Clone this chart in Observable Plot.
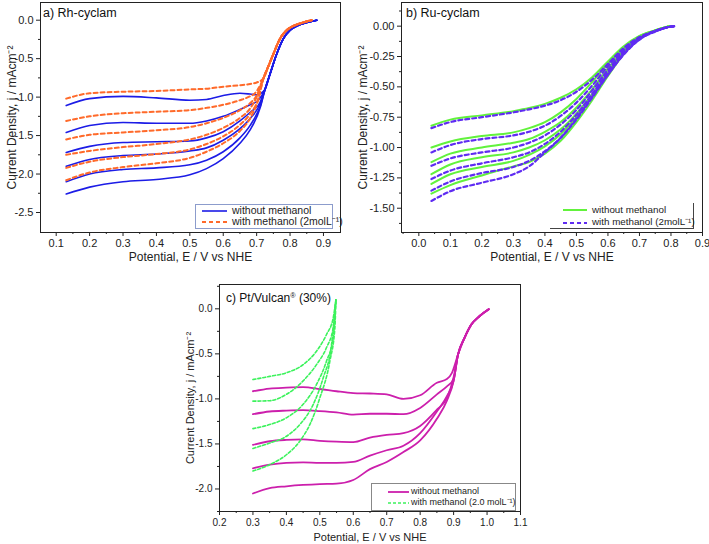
<!DOCTYPE html>
<html><head><meta charset="utf-8">
<script src="https://cdn.jsdelivr.net/npm/d3@7"></script>
<script src="https://cdn.jsdelivr.net/npm/@observablehq/plot@0.6"></script>
<style>
body{margin:0;background:#fff;}
#root{position:relative;width:709px;height:544px;overflow:hidden;font-family:"Liberation Sans",Arial,sans-serif;color:#222;background:#fff;}
.panel{position:absolute;}
.title{position:absolute;white-space:nowrap;line-height:1;color:#111;}
.title sup{font-size:0.6em;vertical-align:0.6em;line-height:0;}
.legend{position:absolute;box-sizing:border-box;}
.legend .row{position:absolute;white-space:nowrap;line-height:1;color:#222;}
.legend svg{position:absolute;overflow:visible;}
</style></head>
<body><div id="root"></div>
<script>
// ---------- Panel a) Rh-cyclam ----------
const rhX = [0.13, 0.2, 0.3, 0.4, 0.5, 0.55, 0.6, 0.65, 0.68];
const rhWithoutY = [
  [-1.11, -1.02, -0.99, -1.01, -1.04, -1.03, -0.98, -0.95, -0.96],
  [-1.46, -1.37, -1.33, -1.34, -1.34, -1.31, -1.25, -1.16, -1.10],
  [-1.72, -1.64, -1.59, -1.58, -1.57, -1.53, -1.45, -1.31, -1.20],
  [-1.90, -1.81, -1.76, -1.74, -1.70, -1.66, -1.56, -1.41, -1.28],
  [-2.10, -2.00, -1.94, -1.92, -1.88, -1.82, -1.71, -1.53, -1.37],
  [-2.26, -2.17, -2.10, -2.07, -2.01, -1.93, -1.80, -1.60, -1.43]
];
const rhWithoutEndX = [0.70, 0.705, 0.71, 0.71, 0.712, 0.712];
const rhWithoutEndY = [-0.97, -1.04, -1.07, -1.09, -1.10, -1.12];
const rhWithoutRiseX = [0.725, 0.74, 0.76, 0.78, 0.80, 0.82, 0.85, 0.88];
const rhWithoutRiseY = [-0.90, -0.70, -0.44, -0.24, -0.13, -0.075, -0.03, 0.0];
const rhWithY = [
  [-1.02, -0.95, -0.93, -0.92, -0.90, -0.89, -0.865, -0.845, -0.83],
  [-1.31, -1.25, -1.21, -1.19, -1.17, -1.14, -1.10, -1.04, -0.99],
  [-1.55, -1.49, -1.46, -1.43, -1.39, -1.34, -1.27, -1.17, -1.08],
  [-1.75, -1.70, -1.65, -1.61, -1.55, -1.49, -1.40, -1.27, -1.15],
  [-1.92, -1.84, -1.78, -1.74, -1.68, -1.61, -1.51, -1.36, -1.22],
  [-2.08, -1.98, -1.91, -1.86, -1.79, -1.71, -1.60, -1.44, -1.28]
];
const rhWithEndX = [0.70, 0.695, 0.70, 0.70, 0.705, 0.705];
const rhWithEndY = [-0.81, -0.95, -0.98, -1.00, -1.02, -1.03];
const rhWithRiseX = [0.72, 0.735, 0.75, 0.77, 0.79, 0.81, 0.835, 0.865];
const rhWithRiseY = [-0.76, -0.60, -0.44, -0.24, -0.13, -0.075, -0.035, 0.0];
const rhXTicks = [0.1, 0.2, 0.3, 0.4, 0.5, 0.6, 0.7, 0.8, 0.9];
const rhXMinor = [0.15, 0.25, 0.35, 0.45, 0.55, 0.65, 0.75, 0.85];
const rhYTicks = [0, -0.5, -1.0, -1.5, -2.0, -2.5];
const rhYMinor = [-0.25, -0.75, -1.25, -1.75, -2.25];

// ---------- Panel b) Ru-cyclam ----------
const ruX = [0.04, 0.1, 0.2, 0.3, 0.35, 0.4, 0.45, 0.5, 0.55, 0.6, 0.65, 0.7, 0.75];
const ruWithoutY = [
  [-0.82, -0.77, -0.735, -0.70, -0.675, -0.64, -0.59, -0.52, -0.42, -0.29, -0.165, -0.08, -0.035],
  [-1.00, -0.95, -0.905, -0.875, -0.84, -0.79, -0.71, -0.60, -0.46, -0.31, -0.18, -0.085, -0.035],
  [-1.12, -1.05, -1.00, -0.96, -0.93, -0.87, -0.79, -0.67, -0.52, -0.35, -0.20, -0.095, -0.035],
  [-1.22, -1.14, -1.08, -1.04, -1.00, -0.94, -0.85, -0.72, -0.56, -0.38, -0.21, -0.10, -0.035],
  [-1.30, -1.22, -1.16, -1.11, -1.06, -0.99, -0.89, -0.75, -0.58, -0.40, -0.22, -0.105, -0.035],
  [-1.38, -1.31, -1.23, -1.155, -1.12, -1.05, -0.945, -0.79, -0.61, -0.41, -0.23, -0.10, -0.035]
];
const ruWithoutEndX = [0.795];
const ruWithoutEndY = [0.0];
const ruWithY = [
  [-0.84, -0.79, -0.75, -0.71, -0.685, -0.655, -0.61, -0.54, -0.44, -0.31, -0.18, -0.09, -0.04],
  [-1.04, -0.98, -0.93, -0.90, -0.87, -0.82, -0.74, -0.63, -0.49, -0.33, -0.195, -0.095, -0.04],
  [-1.15, -1.09, -1.04, -1.00, -0.96, -0.90, -0.81, -0.69, -0.53, -0.36, -0.21, -0.10, -0.04],
  [-1.26, -1.19, -1.13, -1.08, -1.04, -0.97, -0.87, -0.73, -0.56, -0.38, -0.22, -0.105, -0.04],
  [-1.355, -1.28, -1.21, -1.16, -1.11, -1.03, -0.92, -0.77, -0.59, -0.40, -0.23, -0.11, -0.04],
  [-1.44, -1.36, -1.29, -1.22, -1.155, -1.04, -0.92, -0.76, -0.58, -0.40, -0.235, -0.11, -0.045]
];
const ruWithEndX = [0.78, 0.81];
const ruWithEndY = [-0.015, 0.0];
const ruXTicks = [0.0, 0.1, 0.2, 0.3, 0.4, 0.5, 0.6, 0.7, 0.8, 0.9];
const ruXMinor = [-0.05, 0.05, 0.15, 0.25, 0.35, 0.45, 0.55, 0.65, 0.75, 0.85];
const ruYTicks = [0, -0.25, -0.5, -0.75, -1.0, -1.25, -1.5];
const ruYMinor = [0.125, -0.125, -0.375, -0.625, -0.875, -1.125, -1.375, -1.625];

// ---------- Panel c) Pt/Vulcan ----------
const ptX = [0.30, 0.35, 0.40, 0.45, 0.50, 0.55, 0.60, 0.65, 0.70, 0.75, 0.80, 0.85, 0.88];
const ptWithoutY = [
  [-0.915, -0.885, -0.875, -0.87, -0.89, -0.915, -0.935, -0.94, -0.95, -1.0, -0.96, -0.82, -0.78],
  [-1.17, -1.14, -1.13, -1.125, -1.135, -1.15, -1.175, -1.165, -1.165, -1.17, -1.10, -0.95, -0.86],
  [-1.51, -1.47, -1.455, -1.45, -1.465, -1.475, -1.48, -1.43, -1.40, -1.38, -1.30, -1.12, -0.99],
  [-1.77, -1.73, -1.71, -1.705, -1.71, -1.71, -1.70, -1.63, -1.57, -1.52, -1.38, -1.14, -0.97],
  [-2.05, -1.99, -1.97, -1.955, -1.945, -1.94, -1.90, -1.78, -1.70, -1.59, -1.46, -1.22, -1.02]
];
const ptWithoutEndX = [0.895, 0.90, 0.90, 0.90, 0.90];
const ptWithoutEndY = [-0.71, -0.78, -0.76, -0.80, -0.80];
const ptWithoutRiseX = [0.913, 0.933, 0.953, 0.978, 1.005];
const ptWithoutRiseY = [-0.51, -0.32, -0.175, -0.08, -0.005];
const ptWithX = [
  [0.30, 0.35, 0.40, 0.45, 0.49, 0.52, 0.54, 0.548],
  [0.30, 0.35, 0.40, 0.45, 0.49, 0.52, 0.54, 0.548],
  [0.30, 0.35, 0.40, 0.45, 0.49, 0.52, 0.54, 0.548],
  [0.30, 0.35, 0.40, 0.44, 0.48, 0.51, 0.535, 0.548],
  [0.30, 0.35, 0.40, 0.44, 0.47, 0.50, 0.53, 0.545, 0.548]
];
const ptWithY = [
  [-0.785, -0.75, -0.71, -0.62, -0.47, -0.285, -0.10, 0.10],
  [-1.025, -1.02, -0.95, -0.80, -0.62, -0.43, -0.21, 0.10],
  [-1.33, -1.285, -1.21, -1.06, -0.84, -0.58, -0.32, 0.10],
  [-1.55, -1.49, -1.415, -1.285, -1.063, -0.767, -0.396, 0.10],
  [-1.80, -1.73, -1.62, -1.47, -1.285, -0.99, -0.58, -0.21, 0.10]
];
const ptXTicks = [0.2, 0.3, 0.4, 0.5, 0.6, 0.7, 0.8, 0.9, 1.0, 1.1];
const ptXMinor = [0.25, 0.35, 0.45, 0.55, 0.65, 0.75, 0.85, 0.95, 1.05];
const ptYTicks = [0, -0.5, -1.0, -1.5, -2.0];
const ptYMinor = [-0.25, -0.75, -1.25, -1.75, -2.25, 0.25];

const xLabel = "Potential, E / V vs NHE";
const yLabel = "Current Density, j / mAcm\u207B\u00B2";

// ---------- helpers ----------
function rows(xs, ys, id) { return xs.map((x, i) => ({x, y: ys[i], id})); }
function curveSet(plateauX, plateauYs, endXs, endYs, riseX, riseY, prefix) {
  const out = [];
  plateauYs.forEach((ys, k) => {
    const xs = plateauX.concat(endXs.length === plateauYs.length ? [endXs[k]] : endXs, riseX || []);
    const yy = ys.concat(endYs.length === plateauYs.length ? [endYs[k]] : endYs, riseY || []);
    out.push(...rows(xs, yy, prefix + k));
  });
  return out;
}
const fmt = n => d => d.toFixed(n);
const FONT = "Liberation Sans, Arial, sans-serif";

function makePanel(o) {
  return Plot.plot({
    width: o.width, height: o.height,
    marginLeft: o.ml, marginRight: o.mr, marginTop: o.mt, marginBottom: o.mb,
    style: {fontFamily: FONT, fontSize: o.tickFont + "px", color: "#222", background: "transparent", overflow: "visible"},
    x: {domain: o.xDomain},
    y: {domain: o.yDomain},
    marks: [
      ...o.lines.map(l => Plot.line(l.data, {x: "x", y: "y", z: "id", stroke: l.stroke, strokeWidth: l.sw, strokeDasharray: l.dash, curve: "monotone-x"})),
      Plot.frame({stroke: "#222", strokeWidth: 1}),
      Plot.axisX(o.xTicks, {tickSize: 4, tickPadding: 3, tickFormat: o.xFmt, label: null, fontSize: o.tickFont, stroke: "#222"}),
      Plot.axisX(o.xMinor, {tickSize: 2, tickFormat: () => "", label: null, stroke: "#222"}),
      Plot.axisY(o.yTicks, {tickSize: 4, tickPadding: 3, tickFormat: o.yFmt, label: null, fontSize: o.tickFont, stroke: "#222"}),
      Plot.axisY(o.yMinor, {tickSize: 2, tickFormat: () => "", label: null, stroke: "#222"}),
      Plot.text([xLabel], {frameAnchor: "bottom", dy: o.xLabelDy, lineAnchor: "middle", textAnchor: "middle", fontSize: o.labelFont, fill: "#222"}),
      Plot.text([yLabel], {frameAnchor: "left", rotate: -90, dx: o.yLabelDx, textAnchor: "middle", lineAnchor: "middle", fontSize: o.labelFont, fill: "#222"})
    ]
  });
}

const root = document.getElementById("root");
function place(el, left, top) {
  const d = document.createElement("div");
  d.className = "panel"; d.style.left = left + "px"; d.style.top = top + "px";
  d.appendChild(el); root.appendChild(d);
}
function title(html, left, top, size) {
  const d = document.createElement("div");
  d.className = "title"; d.innerHTML = html;
  d.style.left = left + "px"; d.style.top = top + "px"; d.style.fontSize = size + "px";
  root.appendChild(d);
}
function legend(o) {
  const d = document.createElement("div");
  d.className = "legend";
  Object.assign(d.style, {left: o.left + "px", top: o.top + "px", width: o.width + "px", height: o.height + "px"}, o.border);
  o.items.forEach((it, i) => {
    const cy = o.rowY[i];
    const svg = document.createElementNS("http://www.w3.org/2000/svg", "svg");
    svg.setAttribute("width", o.lineW); svg.setAttribute("height", 6);
    svg.style.left = o.lineX + "px"; svg.style.top = (cy - 3) + "px";
    const ln = document.createElementNS("http://www.w3.org/2000/svg", "line");
    ln.setAttribute("x1", 0); ln.setAttribute("x2", o.lineW); ln.setAttribute("y1", 3); ln.setAttribute("y2", 3);
    ln.setAttribute("stroke", it.color); ln.setAttribute("stroke-width", it.sw);
    if (it.dash) ln.setAttribute("stroke-dasharray", it.dash);
    svg.appendChild(ln); d.appendChild(svg);
    const t = document.createElement("div");
    t.className = "row"; t.textContent = it.label;
    t.style.left = o.textX + "px"; t.style.top = (cy - o.font / 2 - 0.5) + "px"; t.style.fontSize = o.font + "px";
    d.appendChild(t);
  });
  root.appendChild(d);
}

// colours
const cBlue = "#1c1ce6", cOrange = "#ff6a2a", cGreen = "#62f23c", cPurple = "#5f2cf2", cMagenta = "#cc1fac", cGreen2 = "#3cf25c";

// ---------- panel a ----------
const aWithout = curveSet(rhX, rhWithoutY, rhWithoutEndX, rhWithoutEndY, rhWithoutRiseX, rhWithoutRiseY, "a0-");
const aWith = curveSet(rhX, rhWithY, rhWithEndX, rhWithEndY, rhWithRiseX, rhWithRiseY, "a1-");
place(makePanel({
  width: 355, height: 270, ml: 40, mr: 15, mt: 2, mb: 38,
  xDomain: [0.053, 0.951], yDomain: [-2.76, 0.23],
  xTicks: rhXTicks, xMinor: rhXMinor, yTicks: rhYTicks, yMinor: rhYMinor,
  xFmt: fmt(1), yFmt: fmt(1), tickFont: 11, labelFont: 12, xLabelDy: 25, yLabelDx: -28,
  lines: [
    {data: aWithout, stroke: cBlue, sw: 1.6},
    {data: aWith, stroke: cOrange, sw: 2, dash: "4,3"}
  ]
}), 0, 0);

// ---------- panel b ----------
const bWithout = curveSet(ruX, ruWithoutY, ruWithoutEndX, ruWithoutEndY, null, null, "b0-");
const bWith = curveSet(ruX, ruWithY, ruWithEndX, ruWithEndY, null, null, "b1-");
place(makePanel({
  width: 354, height: 270, ml: 46, mr: 7, mt: 2, mb: 38,
  xDomain: [-0.055, 0.9], yDomain: [-1.70, 0.195],
  xTicks: ruXTicks, xMinor: ruXMinor, yTicks: ruYTicks, yMinor: ruYMinor,
  xFmt: fmt(1), yFmt: fmt(2), tickFont: 11, labelFont: 12, xLabelDy: 25, yLabelDx: -38,
  lines: [
    {data: bWithout, stroke: cGreen, sw: 2},
    {data: bWith, stroke: cPurple, sw: 2.2, dash: "4,3"}
  ]
}), 355, 0);

// ---------- panel c ----------
const cWithout = curveSet(ptX, ptWithoutY, ptWithoutEndX, ptWithoutEndY, ptWithoutRiseX, ptWithoutRiseY, "c0-");
const cWith = ptWithX.flatMap((xs, k) => rows(xs, ptWithY[k], "c1-" + k));
place(makePanel({
  width: 365, height: 274, ml: 54, mr: 10, mt: 14, mb: 33,
  xDomain: [0.2, 1.1], yDomain: [-2.25, 0.27],
  xTicks: ptXTicks, xMinor: ptXMinor, yTicks: ptYTicks, yMinor: ptYMinor,
  xFmt: fmt(1), yFmt: fmt(1), tickFont: 10, labelFont: 11, xLabelDy: 26, yLabelDx: -29,
  lines: [
    {data: cWithout, stroke: cMagenta, sw: 1.8},
    {data: cWith, stroke: cGreen2, sw: 1.6, dash: "3,2"}
  ]
}), 165, 270);

// ---------- titles ----------
title("a) Rh-cyclam", 43, 7, 12.5);
title("b) Ru-cyclam", 406, 7, 12.5);
title("c) Pt/Vulcan<sup>®</sup> (30%)", 226, 292, 12);

// ---------- legends ----------
legend({left: 195, top: 204, width: 138, height: 25, border: {border: "1px solid #8c9ccc"},
  lineX: 6, lineW: 25, textX: 36, font: 10.5, rowY: [6, 17],
  items: [
    {label: "without methanol", color: cBlue, sw: 1.6},
    {label: "with methanol (2molL\u207B\u00B9)", color: cOrange, sw: 2, dash: "4,3"}
  ]});
legend({left: 550, top: 203, width: 144, height: 26, border: {borderRight: "1px solid #444", borderBottom: "1px solid #444"},
  lineX: 13, lineW: 24, textX: 42, font: 9.8, rowY: [7, 19.5],
  items: [
    {label: "without methanol", color: cGreen, sw: 2},
    {label: "with methanol (2molL\u207B\u00B9)", color: cPurple, sw: 2.2, dash: "4,3"}
  ]});
legend({left: 371, top: 483, width: 145, height: 28, border: {border: "1px solid #888"},
  lineX: 16, lineW: 21, textX: 39, font: 9, rowY: [8, 19],
  items: [
    {label: "without methanol", color: cMagenta, sw: 1.8},
    {label: "with methanol (2.0 molL\u207B\u00B9)", color: cGreen2, sw: 1.6, dash: "3,2"}
  ]});
</script>
</body></html>
